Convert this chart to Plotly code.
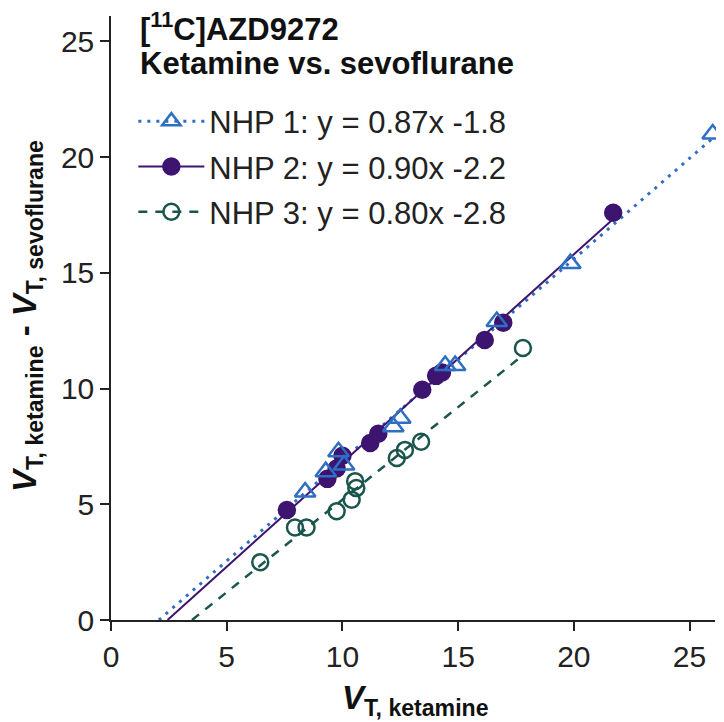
import plotly.graph_objects as go

# ---- data ----
nhp1_x = [8.39, 9.28, 9.83, 10.07, 12.2, 12.5, 14.44, 14.87, 16.67, 19.85, 26.0]
nhp1_y = [5.53, 6.41, 7.27, 6.70, 8.35, 8.72, 11.0, 11.0, 12.9, 15.4, 21.0]

nhp2_x = [7.6, 9.35, 9.75, 10.0, 11.2, 11.55, 13.45, 14.05, 14.3, 16.15, 16.95, 21.7]
nhp2_y = [4.75, 6.1, 6.55, 7.1, 7.65, 8.05, 9.95, 10.55, 10.7, 12.1, 12.85, 17.6]

nhp3_x = [6.45, 7.95, 8.45, 9.75, 10.4, 10.6, 10.55, 12.35, 12.7, 13.4, 17.8]
nhp3_y = [2.5, 4.0, 4.0, 4.7, 5.2, 5.7, 6.0, 7.0, 7.35, 7.7, 11.75]

names = ["NHP 1", "NHP 2", "NHP 3"]
slopes = [0.87, 0.90, 0.80]
intercepts = [-1.8, -2.2, -2.8]
x_ticks = [0, 5, 10, 15, 20, 25]
y_ticks = [0, 5, 10, 15, 20, 25]

series_x = [nhp1_x, nhp2_x, nhp3_x]
series_y = [nhp1_y, nhp2_y, nhp3_y]

colors = ["#2e6fc4", "#3d1470", "#1b564c"]
symbols = ["triangle-up-open", "circle", "circle-open"]
sizes = [18, 16, 16]
dashes = ["3px,6px", "solid", "9px,8px"]
widths = [3, 2, 2.5]

FONT = "Liberation Sans, Arial"

fig = go.Figure()

# regression lines (from legend equations), from y=0 to last data point
for i in range(3):
    m, b = slopes[i], intercepts[i]
    x0 = -b / m
    x1 = max(series_x[i])
    fig.add_trace(go.Scatter(
        x=[x0, x1], y=[m * x0 + b, m * x1 + b], mode="lines",
        line=dict(color=colors[i], width=widths[i], dash=dashes[i]),
        showlegend=False, hoverinfo="skip"))

# points (NHP3 bottom, NHP1 top)
for i in [2, 1, 0]:
    fig.add_trace(go.Scatter(
        x=series_x[i], y=series_y[i], mode="markers", cliponaxis=False,
        marker=dict(symbol=symbols[i], size=sizes[i], color=colors[i],
                    line=dict(color=colors[i], width=2.5)),
        showlegend=False))

# legend entries
for i in range(3):
    label = f"{names[i]}: y = {slopes[i]:.2f}x {intercepts[i]:.1f}"
    fig.add_trace(go.Scatter(
        x=[None], y=[None], mode="lines+markers", name=label,
        legendgroup=f"g{i}",
        line=dict(color=colors[i], width=widths[i], dash=dashes[i]),
        marker=dict(symbol=symbols[i], size=sizes[i], color=colors[i],
                    line=dict(color=colors[i], width=2.5))))

axis_common = dict(
    showline=True, linecolor="#222", linewidth=1.5,
    ticks="outside", ticklen=9, tickwidth=1.5, tickcolor="#222",
    showgrid=False, zeroline=False, automargin=False,
    tickfont=dict(family=FONT, size=30, color="#222"),
)

# page body has an 8px margin; the figure is sized so the plot area lands
# at x 111..715, y 16..620 in the window
fig.update_layout(
    width=716, height=714,
    margin=dict(l=103, r=9, t=8, b=102),
    paper_bgcolor="white", plot_bgcolor="white",
    xaxis=dict(range=[0, 26.1], tickvals=x_ticks, **axis_common),
    yaxis=dict(range=[0, 26.1], tickvals=y_ticks, **axis_common),
    legend=dict(x=0.037, y=0.87, xanchor="left", yanchor="top",
                font=dict(family=FONT, size=31, color="#222"),
                itemwidth=66, tracegroupgap=2, bgcolor="rgba(0,0,0,0)"),
    font=dict(family=FONT, color="#222"),
)

fig.add_annotation(
    xref="paper", yref="paper", x=0.044, y=(620 - 27) / 604, xanchor="left", yanchor="middle",
    text="<b>[<sup>11</sup>C]AZD9272</b>", showarrow=False,
    font=dict(family=FONT, size=31, color="#111"))
fig.add_annotation(
    xref="paper", yref="paper", x=0.044, y=(620 - 64) / 604, xanchor="left", yanchor="middle",
    text="<b>Ketamine vs. sevoflurane</b>", showarrow=False,
    font=dict(family=FONT, size=31, color="#111"))

fig.add_annotation(
    xref="paper", yref="paper", x=(415 - 111) / 604, y=(620 - 700) / 604,
    xanchor="center", yanchor="middle",
    text="<b><i>V</i><sub>T, ketamine</sub></b>", showarrow=False,
    font=dict(family=FONT, size=33, color="#111"))
fig.add_annotation(
    xref="paper", yref="paper", x=(27 - 111) / 604, y=(620 - 316) / 604,
    xanchor="center", yanchor="middle",
    textangle=-90,
    text="<b><i>V</i><sub>T, ketamine</sub> - <i>V</i><sub>T, sevoflurane</sub></b>",
    showarrow=False,
    font=dict(family=FONT, size=33, color="#111"))

fig.write_html("out.html")
